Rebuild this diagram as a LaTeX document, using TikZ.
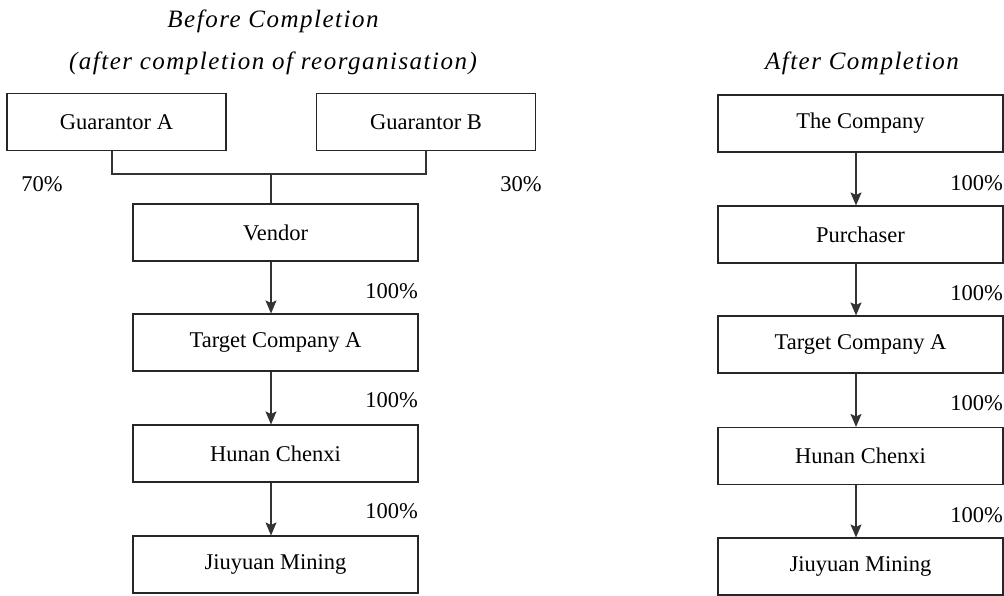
\documentclass[tikz,border=0pt]{standalone}
\usepackage{fontspec}
\setmainfont{Liberation Serif}
\newfontfamily\ttlfont[LetterSpace=6]{Liberation Serif}
\usetikzlibrary{arrows.meta,calc}
\begin{document}
\begin{tikzpicture}[x=1pt,y=-1pt,
  every node/.style={font=\fontsize{22.5}{27}\selectfont, inner sep=0pt},
  entity/.style={draw=black!85, line width=1.1pt, minimum height=57pt},
  wide/.style={entity, minimum width=285pt},
  narrow/.style={entity, minimum width=219pt},
  link/.style={draw=black!80, line width=1.1pt},
  arr/.style={link, -{Stealth[length=13pt,width=11pt,inset=2.5pt]}},
  pct/.style={anchor=east},
  ttl/.style={font=\fontsize{25}{29}\ttlfont\itshape}]
\useasboundingbox (0,0) rectangle (1004,596);

% titles
\node[ttl] (t1) at (273,21) {Before Completion};
\node[ttl] (t2) at (273,63) {(after completion of reorganisation)};
\node[ttl] (t3) at (862,63) {After Completion};

% left column
\node[narrow] (gA) at (116.5,122) {Guarantor A};
\node[narrow] (gB) at (426,122) {Guarantor B};
\node[wide] (ven) at (275.5,232.5) {Vendor};
\node[wide] (tA) at (275.5,342.5) {Target Company A};
\node[wide] (hc) at (275.5,453.5) {Hunan Chenxi};
\node[wide] (jm) at (275.5,564.5) {Jiuyuan Mining};

\coordinate (j) at (271,174);
\draw[link] ([xshift=-4.5pt]gA.south) |- (j) -| (gB.south);
\draw[link] (j) -- (j |- ven.north);
\draw[arr] ([xshift=-4.5pt]ven.south) -- ([xshift=-4.5pt]tA.north);
\draw[arr] ([xshift=-4.5pt]tA.south) -- ([xshift=-4.5pt]hc.north);
\draw[arr] ([xshift=-4.5pt]hc.south) -- ([xshift=-4.5pt]jm.north);

\node (p70) at (42,184) {70\%};
\node (p30) at (521,184) {30\%};
\node[pct] (l1) at (418,291) {100\%};
\node[pct] (l2) at (418,400) {100\%};
\node[pct] (l3) at (418,511) {100\%};

% right column
\node[wide] (co) at (860.5,123.5) {The Company};
\node[wide] (pu) at (860.5,234.5) {Purchaser};
\node[wide] (rtA) at (860.5,344.5) {Target Company A};
\node[wide] (rhc) at (860.5,456) {Hunan Chenxi};
\node[wide] (rjm) at (860.5,566.5) {Jiuyuan Mining};

\draw[arr] ([xshift=-4.5pt]co.south) -- ([xshift=-4.5pt]pu.north);
\draw[arr] ([xshift=-4.5pt]pu.south) -- ([xshift=-4.5pt]rtA.north);
\draw[arr] ([xshift=-4.5pt]rtA.south) -- ([xshift=-4.5pt]rhc.north);
\draw[arr] ([xshift=-4.5pt]rhc.south) -- ([xshift=-4.5pt]rjm.north);

\node[pct] (r1) at (1003,183) {100\%};
\node[pct] (r2) at (1003,293) {100\%};
\node[pct] (r3) at (1003,403) {100\%};
\node[pct] (r4) at (1003,515) {100\%};
\end{tikzpicture}
\end{document}
